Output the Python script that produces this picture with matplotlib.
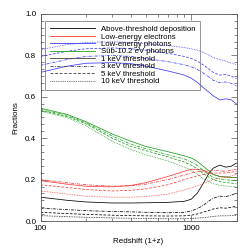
import numpy as np
import matplotlib
matplotlib.use("Agg")
from matplotlib import pyplot as plt
from matplotlib.ticker import FixedLocator, NullFormatter, FixedFormatter
from matplotlib.lines import Line2D

plt.rcParams['font.family'] = ['Liberation Sans', 'DejaVu Sans']
plt.rcParams['font.size'] = 5.8

########################################
# data
########################################
z = [100, 150, 200, 300, 400, 500, 700, 900, 1000, 1100, 1200, 1300, 1400, 1550, 1700, 1850, 2000]

# above-threshold deposition (black)
dep_1kev = [0.115, 0.100, 0.092, 0.087, 0.087, 0.088, 0.090, 0.095, 0.105, 0.135, 0.180, 0.225, 0.255, 0.270, 0.260, 0.265, 0.280]
dep_3kev = [0.062, 0.055, 0.050, 0.046, 0.044, 0.042, 0.040, 0.042, 0.048, 0.060, 0.075, 0.095, 0.110, 0.120, 0.118, 0.125, 0.135]
dep_5kev = [0.042, 0.036, 0.032, 0.028, 0.026, 0.025, 0.024, 0.025, 0.028, 0.034, 0.042, 0.050, 0.058, 0.064, 0.062, 0.066, 0.072]
dep_10kev = [0.026, 0.021, 0.018, 0.015, 0.013, 0.012, 0.011, 0.011, 0.012, 0.014, 0.016, 0.019, 0.022, 0.025, 0.025, 0.026, 0.027]

# low-energy electrons (red)
ele_1kev = [0.195, 0.178, 0.168, 0.165, 0.172, 0.185, 0.215, 0.240, 0.250, 0.250, 0.245, 0.235, 0.225, 0.215, 0.212, 0.211, 0.210]
ele_3kev = [0.200, 0.185, 0.175, 0.168, 0.170, 0.178, 0.200, 0.222, 0.232, 0.238, 0.240, 0.243, 0.245, 0.242, 0.240, 0.245, 0.250]
ele_5kev = [0.175, 0.162, 0.152, 0.145, 0.148, 0.155, 0.175, 0.200, 0.210, 0.218, 0.225, 0.229, 0.232, 0.232, 0.232, 0.236, 0.240]
ele_10kev = [0.145, 0.130, 0.120, 0.115, 0.115, 0.118, 0.130, 0.150, 0.160, 0.170, 0.180, 0.190, 0.200, 0.207, 0.212, 0.218, 0.225]

# low-energy photons (blue)
pho_1kev = [0.718, 0.748, 0.762, 0.765, 0.760, 0.748, 0.725, 0.705, 0.690, 0.670, 0.645, 0.625, 0.605, 0.585, 0.590, 0.585, 0.565]
pho_3kev = [0.752, 0.780, 0.795, 0.800, 0.795, 0.785, 0.770, 0.755, 0.745, 0.732, 0.715, 0.698, 0.680, 0.668, 0.672, 0.665, 0.652]
pho_5kev = [0.795, 0.820, 0.832, 0.836, 0.832, 0.825, 0.810, 0.795, 0.785, 0.772, 0.755, 0.737, 0.718, 0.705, 0.708, 0.700, 0.688]
pho_10kev = [0.828, 0.852, 0.862, 0.866, 0.863, 0.857, 0.847, 0.838, 0.832, 0.825, 0.815, 0.803, 0.790, 0.780, 0.772, 0.763, 0.755]

# sub-10.2 eV photons (green)
sub_1kev = [0.545, 0.515, 0.480, 0.420, 0.385, 0.360, 0.335, 0.315, 0.305, 0.288, 0.265, 0.245, 0.225, 0.215, 0.213, 0.211, 0.210]
sub_3kev = [0.540, 0.510, 0.475, 0.410, 0.370, 0.350, 0.320, 0.300, 0.285, 0.268, 0.245, 0.227, 0.210, 0.202, 0.199, 0.197, 0.195]
sub_5kev = [0.535, 0.505, 0.470, 0.400, 0.360, 0.340, 0.310, 0.285, 0.270, 0.252, 0.230, 0.213, 0.200, 0.190, 0.186, 0.183, 0.180]
sub_10kev = [0.530, 0.500, 0.460, 0.385, 0.345, 0.320, 0.290, 0.260, 0.245, 0.225, 0.205, 0.192, 0.180, 0.172, 0.169, 0.167, 0.165]

channels = ["Above-threshold deposition", "Low-energy electrons", "Low-energy photons", "Sub-10.2 eV photons"]
thresholds = ["1 keV threshold", "3 keV threshold", "5 keV threshold", "10 keV threshold"]

########################################
# plot
########################################
colors = ["black", "#ff3a3a", "#3a3aff", "#20a020"]
styles = ["-", (0, (4, 1.5, 1, 1.5)), (0, (3.5, 2)), (0, (1, 1.2))]
series = [
  [dep_1kev, dep_3kev, dep_5kev, dep_10kev],
  [ele_1kev, ele_3kev, ele_5kev, ele_10kev],
  [pho_1kev, pho_3kev, pho_5kev, pho_10kev],
  [sub_1kev, sub_3kev, sub_5kev, sub_10kev],
]

fig = plt.figure(figsize=(2.49, 2.49), dpi=100)
ax = fig.add_axes([40.5/249, 1-221/249, 196/249, 207/249])

for col, group in zip(colors, series):
  for ls, y in zip(styles, group):
    ax.plot(z, y, color=col, ls=ls, lw=0.55)

ax.set_xscale("log")
ax.set_xlim(100, 2000)
ax.set_ylim(0, 1)
ax.xaxis.set_major_locator(FixedLocator([100, 1000]))
ax.xaxis.set_major_formatter(FixedFormatter(["100", "1000"]))
ax.xaxis.set_minor_locator(FixedLocator([200, 300, 400, 500, 600, 700, 800, 900, 2000]))
ax.xaxis.set_minor_formatter(NullFormatter())
ax.yaxis.set_major_locator(FixedLocator([0, 0.2, 0.4, 0.6, 0.8, 1.0]))
ax.yaxis.set_major_formatter(FixedFormatter(["0.0", "0.2", "0.4", "0.6", "0.8", "1.0"]))
ax.yaxis.set_minor_locator(FixedLocator(np.arange(0, 1.0001, 0.2/6)))
ax.tick_params(which="both", direction="in", top=True, right=True, width=0.5, color="#555555", labelsize=5.8, pad=3)
ax.tick_params(which="major", length=4)
ax.tick_params(which="minor", length=2)
for s in ax.spines.values():
  s.set_linewidth(0.6)
  s.set_color("#555555")

ax.set_xlabel("Redshift (1+z)", fontsize=5.8, labelpad=4)
ax.set_ylabel("Fractions", fontsize=5.8, labelpad=4)

handles = [Line2D([], [], color=c, lw=0.6) for c in colors]
handles += [Line2D([], [], color="#444444", ls=ls, lw=0.6) for ls in styles]
leg = ax.legend(handles, channels + thresholds, loc="upper left", bbox_to_anchor=(0.0245, 0.966),
                borderaxespad=0, fontsize=5.6, frameon=True, fancybox=False,
                facecolor="none", edgecolor="#666666", handlelength=5.8, handletextpad=0.8,
                labelspacing=0.0, borderpad=0.6)
leg.get_frame().set_linewidth(0.6)

plt.savefig("out.png", dpi=100)
